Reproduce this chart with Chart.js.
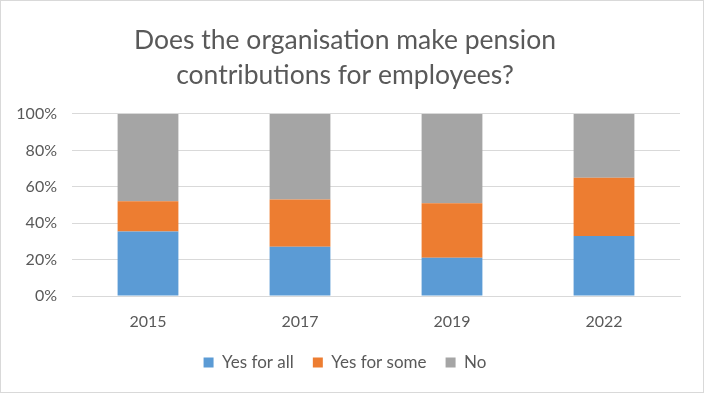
<!DOCTYPE html>
<html>
<head>
<meta charset="utf-8">
<script src="https://cdn.jsdelivr.net/npm/chart.js@4/dist/chart.umd.min.js"></script>
<style>
html,body{margin:0;padding:0;background:#fff;}
#wrap{width:704px;height:393px;position:relative;}
</style>
</head>
<body>
<div id="wrap"><canvas id="c" width="704" height="393"></canvas></div>
<script>
const categories = ["2015", "2017", "2019", "2022"];
const yesForAll = [35.5, 27, 21, 33];
const yesForSome = [16.5, 26, 30, 32];
const no = [48, 47, 49, 35];
const titleLines = ["Does the organisation make pension", "contributions for employees?"];

const FONT = "Lato, 'Open Sans', sans-serif";
const TXT = "#595959";

const frame = {
  id: 'frame',
  beforeDraw(chart) {
    const ctx = chart.ctx;
    ctx.save();
    ctx.fillStyle = '#fff';
    ctx.fillRect(0, 0, chart.width, chart.height);
    ctx.strokeStyle = '#d9d9d9';
    ctx.lineWidth = 1;
    ctx.strokeRect(0.5, 0.5, chart.width - 1, chart.height - 1);
    ctx.restore();
  }
};

new Chart(document.getElementById('c'), {
  type: 'bar',
  data: {
    labels: categories,
    datasets: [
      { label: 'Yes for all', data: yesForAll, backgroundColor: '#5B9BD5' },
      { label: 'Yes for some', data: yesForSome, backgroundColor: '#ED7D31' },
      { label: 'No', data: no, backgroundColor: '#A5A5A5' }
    ]
  },
  options: {
    responsive: false,
    animation: false,
    devicePixelRatio: 1,
    layout: { padding: { left: 10, right: 24, top: 23, bottom: 12 } },
    datasets: { bar: { categoryPercentage: 1, barPercentage: 0.4 } },
    plugins: {
      title: {
        display: true,
        text: titleLines,
        color: TXT,
        font: { family: FONT, size: 26.5, weight: 'normal', lineHeight: 1.32 },
        padding: { top: 0, bottom: 21 }
      },
      legend: {
        position: 'bottom',
        maxHeight: 50,
        labels: {
          color: TXT,
          font: { family: FONT, size: 17 },
          boxWidth: 10, boxHeight: 10,
          padding: 19
        }
      },
      tooltip: { enabled: false }
    },
    scales: {
      x: {
        stacked: true,
        grid: { display: false, drawTicks: false },
        border: { color: '#d9d9d9' },
        ticks: { color: TXT, font: { family: FONT, size: 16 }, padding: 16 },
        afterFit(s) { s.height = 39; }
      },
      y: {
        stacked: true,
        min: 0, max: 100,
        grid: { color: '#d9d9d9', drawTicks: false },
        border: { display: false },
        ticks: {
          stepSize: 20,
          color: TXT,
          font: { family: FONT, size: 16 },
          padding: 15,
          callback: v => v + '%'
        },
        afterFit(s) { s.width = 62; }
      }
    }
  },
  plugins: [frame]
});
</script>
</body>
</html>
